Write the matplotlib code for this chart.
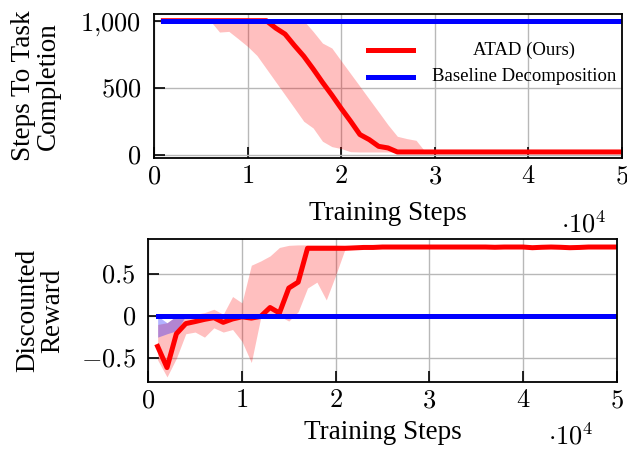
import numpy as np
import matplotlib
matplotlib.use("Agg")
import matplotlib.pyplot as plt

plt.rcParams['font.family'] = ['Liberation Serif', 'DejaVu Serif']
plt.rcParams['mathtext.fontset'] = 'cm'

# training steps (1e3 .. 5e4)
steps = np.arange(1, 51) * 1000

# top: steps to task completion
atad_steps = [1000] * 12 + [945, 900, 815, 735, 640, 540, 445, 345, 250, 150,
                            112, 62, 50] + [20] * 25
atad_steps_hi = [1000] * 16 + [920, 833, 796, 700, 605, 510, 414, 319, 223, 137,
                               120, 107] + [20] * 22
atad_steps_lo = [1000] * 6 + [915, 920, 865, 808, 740, 642, 544, 446, 348, 249,
                              199, 100, 60, 45, 22] + [20] * 29
base_steps = [1000] * 50

# bottom: discounted reward
atad_rew = [-0.36, -0.61, -0.21, -0.09, -0.066, -0.04, -0.02, -0.075, -0.035, -0.01,
            -0.025, -0.005, 0.10, 0.035, 0.33, 0.40, 0.80, 0.80, 0.80, 0.80,
            0.80, 0.805, 0.81, 0.81, 0.815, 0.815, 0.815, 0.815, 0.815, 0.815,
            0.815, 0.815, 0.815, 0.815, 0.815, 0.815, 0.812, 0.815, 0.815, 0.815,
            0.807, 0.812, 0.815, 0.812, 0.807, 0.81, 0.815, 0.815, 0.815, 0.815]
atad_rew_hi = [-0.10, -0.08, 0.0, -0.01, 0.02, 0.04, 0.08, 0.02, 0.23, 0.155,
               0.60, 0.65, 0.71, 0.81, 0.835, 0.84, 0.84, 0.84, 0.84, 0.84,
               0.835] + [0.83] * 29
atad_rew_lo = [-0.52, -0.72, -0.50, -0.21, -0.19, -0.25, -0.14, -0.19, -0.16, -0.30,
               -0.55, -0.02, 0.0, 0.0, -0.06, 0.05, 0.33, 0.40, 0.19, 0.48,
               0.79] + [0.80] * 29
base_rew = [0.0] * 50
base_rew_hi = [0.0, -0.08] + [0.0] * 48
base_rew_lo = [-0.25, -0.21, -0.175] + [0.0] * 47

RED = (1, 0, 0)
BLUE = (0, 0, 1)
LW = 3.6

fig = plt.figure(figsize=(6.27, 4.54), dpi=100)
ax1 = fig.add_axes([0.2456, 0.652, 0.7464, 0.3172])
ax2 = fig.add_axes([0.2365, 0.1586, 0.747, 0.315])


def style(ax, yticks, ylabels, ypad):
    ax.set_xlim(0, 50000)
    ax.set_xticks(np.arange(0, 60000, 10000))
    ax.set_xticklabels([f"${i}$" for i in range(6)])
    ax.set_yticks(yticks)
    ax.set_yticklabels(ylabels)
    ax.grid(True, color=(0.72, 0.72, 0.72), linewidth=1.0)
    ax.set_axisbelow(True)
    ax.tick_params(direction='in', length=8, width=1.2, labelsize=19,
                   top=False, right=False)
    ax.tick_params(axis='x', pad=6)
    ax.tick_params(axis='y', pad=ypad)
    for s in ax.spines.values():
        s.set_linewidth(1.3)


# top panel
ax1.fill_between(steps, atad_steps_lo, atad_steps_hi, color=RED, alpha=0.25, lw=0)
ax1.plot(steps, atad_steps, color=RED, lw=LW)
ax1.plot(steps, base_steps, color=BLUE, lw=LW)
ax1.set_ylim(-25, 1050)
style(ax1, [0, 500, 1000], ["$0$", "$500$", "$1{,}000$"], 9)
ax1.set_ylabel("Steps To Task\nCompletion", fontsize=19.5, linespacing=1.0)
ax1.yaxis.set_label_coords(-0.199, 0.5)
ax1.set_xlabel("Training Steps", fontsize=19.5)
ax1.xaxis.set_label_coords(0.5, -0.382)
ax1.xaxis.label.set_va('center')

# manual legend, centred text like the original
ax1.plot([0.457, 0.553], [0.75, 0.75], transform=ax1.transAxes, color=RED, lw=LW)
ax1.plot([0.457, 0.553], [0.5625, 0.5625], transform=ax1.transAxes, color=BLUE, lw=LW)
ax1.text(0.79, 0.75, "ATAD (Ours)", transform=ax1.transAxes, fontsize=13.5,
         ha='center', va='center')
ax1.text(0.79, 0.5625, "Baseline Decomposition", transform=ax1.transAxes,
         fontsize=13.5, ha='center', va='center')

# bottom panel
ax2.fill_between(steps, atad_rew_lo, atad_rew_hi, color=RED, alpha=0.25, lw=0)
ax2.fill_between(steps, base_rew_lo, base_rew_hi, color=BLUE, alpha=0.3, lw=0)
ax2.plot(steps, atad_rew, color=RED, lw=LW)
ax2.plot(steps, base_rew, color=BLUE, lw=LW)
ax2.set_ylim(-0.78, 0.91)
style(ax2, [-0.5, 0, 0.5], [r"$-0.5$", "$0$", "$0.5$"], 9)
ax2.set_ylabel("Discounted\nReward", fontsize=19.5, linespacing=1.0)
ax2.yaxis.set_label_coords(-0.178, 0.5)
ax2.set_xlabel("Training Steps", fontsize=19.5)
ax2.xaxis.set_label_coords(0.5, -0.35)
ax2.xaxis.label.set_va('center')

fig.text(584 / 627, 1 - 224 / 454, r"$\cdot 10^4$", fontsize=19, ha='center', va='center')
fig.text(571 / 627, 1 - 436 / 454, r"$\cdot 10^4$", fontsize=19, ha='center', va='center')

fig.savefig("out.png", dpi=100)
